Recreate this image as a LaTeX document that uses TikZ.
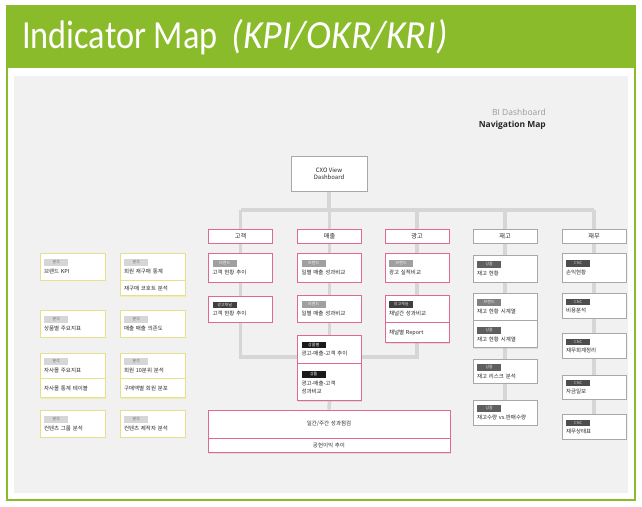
\documentclass[tikz,border=0pt]{standalone}
\usepackage{fontspec}
\setmainfont{Noto Sans CJK KR}
\newfontfamily\titlefont[FakeStretch=0.86]{Carlito}
\newfontfamily\titleit[FakeStretch=0.95]{Carlito}
\newfontfamily\latinfont{Open Sans}
\usetikzlibrary{positioning,shadows,backgrounds}

\definecolor{titlegreen}{HTML}{8ABB2A}
\definecolor{panelgrey}{HTML}{F1F1F1}
\definecolor{linkgrey}{HTML}{D6D6D6}
\definecolor{pinkline}{HTML}{DE6A92}
\definecolor{greyline}{HTML}{A8A8A8}
\definecolor{yellowline}{HTML}{E6E08A}
\definecolor{yellowglow}{HTML}{F2EFB4}
\definecolor{cardtext}{HTML}{262626}
\definecolor{navgrey}{HTML}{9A9A9A}
\definecolor{navdark}{HTML}{262626}

% tag colours: background / text
\definecolor{tpale}{HTML}{D6D6D6}   \definecolor{tpaletx}{HTML}{6F6F6F}
\definecolor{tmid}{HTML}{A0A0A0}    \definecolor{tmidtx}{HTML}{F2F2F2}
\definecolor{tdark}{HTML}{3F3F3F}   \definecolor{tdarktx}{HTML}{E0E0E0}
\definecolor{tblack}{HTML}{1A1A1A}  \definecolor{tblacktx}{HTML}{FFFFFF}
\definecolor{tstock}{HTML}{5F5F5F}  \definecolor{tstocktx}{HTML}{E0E0E0}
\definecolor{tbrand}{HTML}{808080}  \definecolor{tbrandtx}{HTML}{F0F0F0}
\definecolor{tcnc}{HTML}{4D4D4D}    \definecolor{tcnctx}{HTML}{DDDDDD}

\newcommand{\tg}[2]{{\setlength{\fboxsep}{1.2bp}\colorbox{#1}{\makebox[22bp]{\color{#1tx}\fontsize{4}{4}\selectfont\rule[-0.7bp]{0pt}{4.2bp}#2}}}}

\begin{document}
\begin{tikzpicture}[x=1bp, y=-1bp,
    link/.style={draw=linkgrey, line width=3.5bp},
    headbox/.style={rectangle, fill=white, line width=0.9bp, minimum width=64bp, minimum height=14bp,
      inner sep=0pt, text=navdark, font=\fontsize{6.2}{7}\selectfont,
      drop shadow={shadow xshift=0.7bp, shadow yshift=-0.9bp, opacity=0.18}},
    pinkhead/.style={headbox, draw=pinkline},
    greyhead/.style={headbox, draw=greyline},
    card/.style={rectangle, fill=white, line width=0.9bp, text width=56bp, align=left,
      inner xsep=4bp, inner ysep=0pt, text=cardtext, font=\fontsize{5.5}{9.5}\selectfont,
      drop shadow={shadow xshift=0.7bp, shadow yshift=-0.9bp, opacity=0.18}},
    pinkcard/.style={card, draw=pinkline},
    greycard/.style={card, draw=greyline},
    yellowcard/.style={card, draw=yellowline, text width=57bp,
      drop shadow={shadow xshift=0.8bp, shadow yshift=-0.8bp, fill=yellowglow, opacity=0.9}},
  ]
  \useasboundingbox (0,0) rectangle (642,507);

  % title bar and frame
  \fill[titlegreen] (6,5) rectangle (636,68);
  \draw[titlegreen, line width=2bp] (7,68) -- (7,500) -- (635,500) -- (635,68);
  \node[anchor=base west, inner sep=0pt, text=white, font=\titlefont\fontsize{40}{40}\selectfont]
    (title) at (22,49) {Indicator Map\hspace{0.35em}{\titleit\itshape (KPI/OKR/KRI)}};

  \node[anchor=base east, inner sep=0pt, text=navgrey, font=\latinfont\fontsize{8.5}{9}\selectfont]
    (bi) at (546,116) {BI Dashboard};
  \node[anchor=base east, inner sep=0pt, text=navdark, font=\latinfont\bfseries\fontsize{8.5}{9}\selectfont]
    (nav) at (546,128) {Navigation Map};

  % top of the tree
  \node[headbox, draw=greyline, minimum width=76bp, minimum height=35bp, align=center,
    font=\fontsize{6}{7.5}\selectfont] (cxo) at (329,173.5) {CXO View\\Dashboard};
  \coordinate (bus) at (329,210);
  \coordinate (bus-gk) at (240.5,210);
  \coordinate (bus-ms) at (329.5,210);
  \coordinate (bus-ad) at (417,210);
  \coordinate (bus-jg) at (505,210);
  \coordinate (bus-jm) at (594,210);

  % headers
  \node[pinkhead] (gk-h) at (240.5,236) {고객};
  \node[pinkhead] (ms-h) at (329.5,236) {매출};
  \node[pinkhead] (ad-h) at (417,236) {광고};
  \node[greyhead] (jg-h) at (505,236) {재고};
  \node[greyhead] (jm-h) at (594,236) {재무};

  % 고객
  \node[pinkcard, minimum height=29bp] (gk-1) at (240.5,267.5) {\tg{tmid}{브랜드}\\고객 현황 추이};
  \node[pinkcard, minimum height=26bp] (gk-2) at (240.5,309) {\tg{tdark}{광고채널}\\고객 현황 추이};

  % 매출
  \node[pinkcard, minimum height=29bp] (ms-1) at (329.5,267.5) {\tg{tmid}{브랜드}\\일별 매출 성과비교};
  \node[pinkcard, minimum height=27bp] (ms-2) at (329.5,308.5) {\tg{tmid}{브랜드}\\일별 매출 성과비교};
  \node[pinkcard, minimum height=28bp] (ms-3) at (329.5,349) {\tg{tblack}{상품별}\\광고-매출-고객 추이};
  \node[pinkcard, minimum height=37bp, font=\fontsize{5.5}{8}\selectfont, below=0pt of ms-3]
    (ms-4) {\tg{tblack}{상품}\\[1.5bp]광고-매출-고객\\성과비교};

  % 광고
  \node[pinkcard, minimum height=29bp] (ad-1) at (417,267.5) {\tg{tmid}{브랜드}\\광고 실적비교};
  \node[pinkcard, minimum height=27bp] (ad-2) at (417,308.5) {\tg{tdark}{광고채널}\\채널간 성과비교};
  \node[pinkcard, minimum height=20bp, below=0pt of ad-2] (ad-2b) {채널별 Report};

  % 재고
  \node[greycard, minimum height=27bp] (jg-1) at (505,268.5) {\tg{tstock}{상품}\\재고 현황};
  \node[greycard, minimum height=27bp] (jg-2) at (505,306.5) {\tg{tbrand}{브랜드}\\재고 현황 시계열};
  \node[greycard, minimum height=27bp, below=0pt of jg-2] (jg-3) {\tg{tstock}{상품}\\재고 현황 시계열};
  \node[greycard, minimum height=24bp] (jg-4) at (505,371.5) {\tg{tstock}{상품}\\재고 리스크 분석};
  \node[greycard, minimum height=25bp] (jg-5) at (505,412.5) {\tg{tstock}{상품}\\재고수량 vs.판매수량};

  % 재무
  \node[greycard, minimum height=29bp] (jm-1) at (594,267.5) {\tg{tcnc}{CNC}\\손익현황};
  \node[greycard, minimum height=25bp] (jm-2) at (594,306) {\tg{tcnc}{CNC}\\비용분석};
  \node[greycard, minimum height=25bp] (jm-3) at (594,346) {\tg{tcnc}{CNC}\\재무회계정리};
  \node[greycard, minimum height=24bp] (jm-4) at (594,387) {\tg{tcnc}{CNC}\\자금일보};
  \node[greycard, minimum height=25bp] (jm-5) at (594,427) {\tg{tcnc}{CNC}\\재무상태표};

  % 분석 (left)
  \node[yellowcard, minimum height=27bp] (a1-1) at (72.5,266.5) {\tg{tpale}{분석}\\브랜드 KPI};
  \node[yellowcard, minimum height=27bp] (a1-2) at (72.5,323.5) {\tg{tpale}{분석}\\상품별 주요지표};
  \node[yellowcard, minimum height=25bp] (a1-3) at (72.5,365.5) {\tg{tpale}{분석}\\자사몰 주요지표};
  \node[yellowcard, minimum height=19bp, below=0pt of a1-3] (a1-3b) {자사몰 통계 테이블};
  \node[yellowcard, minimum height=27bp] (a1-4) at (72.5,423.5) {\tg{tpale}{분석}\\컨텐츠 그룹 분석};

  \node[yellowcard, minimum height=27bp] (a2-1) at (152.5,266.5) {\tg{tpale}{분석}\\회원 재구매 통계};
  \node[yellowcard, minimum height=15bp, below=0pt of a2-1] (a2-1b) {재구매 코호트 분석};
  \node[yellowcard, minimum height=27bp] (a2-2) at (152.5,323.5) {\tg{tpale}{분석}\\매출 매출 의존도};
  \node[yellowcard, minimum height=25bp] (a2-3) at (152.5,365.5) {\tg{tpale}{분석}\\회원 10분위 분석};
  \node[yellowcard, minimum height=19bp, below=0pt of a2-3] (a2-3b) {구매액별 회원 분포};
  \node[yellowcard, minimum height=27bp] (a2-4) at (152.5,423.5) {\tg{tpale}{분석}\\컨텐츠 제작자 분석};

  % bottom
  \node[pinkcard, text width=234bp, align=center, minimum height=28bp] (bt-1) at (329,424) {일간/주간 성과점검};
  \node[pinkcard, text width=234bp, align=center, minimum height=14bp, below=0pt of bt-1] (bt-2) {공헌이익 추이};

  \coordinate (jn-gk) at (240.5,357);
  \coordinate (jn-ad) at (417,357);

  % panel and links behind the boxes
  \begin{scope}[on background layer]
    \fill[white] (0,0) rectangle (642,507);
    \fill[titlegreen] (6,5) rectangle (636,68);
    \fill[panelgrey] (14,76) rectangle (628,493);
    \draw[link] (cxo.south) -- (bus);
    \draw[link] (bus-gk) -- (bus-jm);
    \foreach \c in {gk,ms,ad,jg,jm}{
      \draw[link] (bus-\c) -- (\c-h.north);
    }
    \foreach \u/\v in {gk-h/gk-1,gk-1/gk-2,ms-h/ms-1,ms-1/ms-2,ms-2/ms-3,ms-4/bt-1,
        ad-h/ad-1,ad-1/ad-2,jg-h/jg-1,jg-1/jg-2,jg-3/jg-4,jg-4/jg-5,
        jm-h/jm-1,jm-1/jm-2,jm-2/jm-3,jm-3/jm-4,jm-4/jm-5}{
      \draw[link] (\u.south) -- (\v.north);
    }
    \draw[link] (gk-2.south) -- (jn-gk) -- (jn-ad) -- (ad-2b.south);
  \end{scope}
\end{tikzpicture}
\end{document}
